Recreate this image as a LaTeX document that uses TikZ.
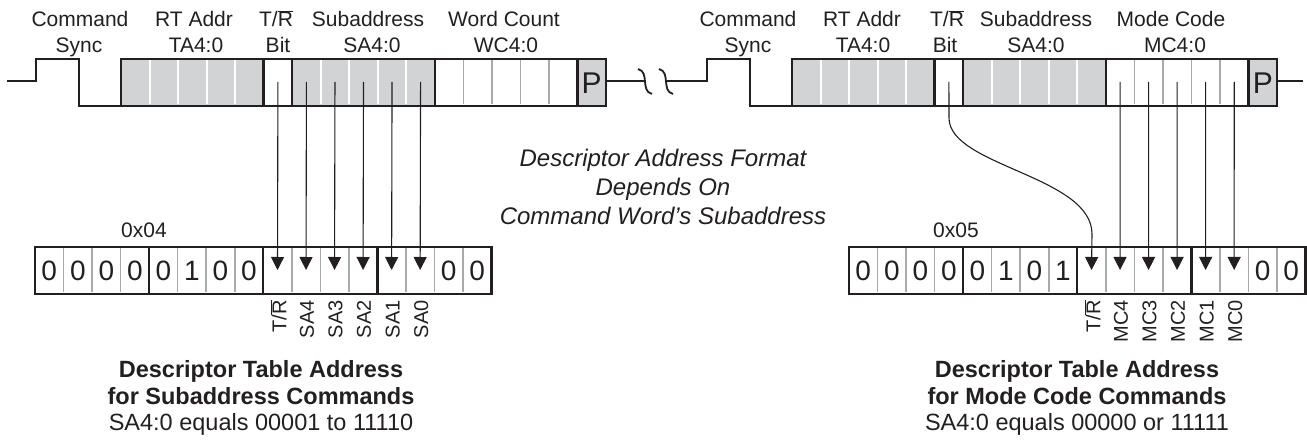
\documentclass[tikz,border=0pt]{standalone}
\usepackage{fontspec}
\setmainfont{Liberation Sans}
\usetikzlibrary{arrows.meta}
\definecolor{ink}{HTML}{231F20}
\definecolor{fieldgray}{HTML}{D1D3D4}
\definecolor{sepgray}{HTML}{A7A9AC}
\def\bw{28.53}
\newcommand{\TRbar}{T/$\overline{\mbox{R}}$}
\begin{document}
\begin{tikzpicture}[x=1pt,y=-1pt,
  outline/.style={draw=ink, line width=2.4pt},
  wave/.style={draw=ink, line width=2pt},
  sepw/.style={draw=white, line width=2pt},
  sepg/.style={draw=sepgray, line width=1.6pt},
  bitarrow/.style={draw=ink, line width=1.1pt, -{Triangle[width=13pt,length=13pt]}},
  head/.style={font=\fontsize{21}{25}\selectfont, anchor=base, inner sep=0pt, text=ink},
  digit/.style={font=\fontsize{28}{30}\selectfont, anchor=base, inner sep=0pt, text=ink},
  vlabel/.style={font=\fontsize{20}{22}\selectfont, rotate=90, anchor=east, inner sep=0pt, text=ink},
  hexlabel/.style={font=\fontsize{21}{25}\selectfont, anchor=base, inner sep=0pt, text=ink},
  note/.style={font=\fontsize{24}{28}\selectfont\itshape, anchor=base, inner sep=0pt, text=ink},
  captb/.style={font=\fontsize{23.5}{27}\selectfont\bfseries, anchor=base, inner sep=0pt, text=ink},
  captr/.style={font=\fontsize{23.5}{27}\selectfont, anchor=base, inner sep=0pt, text=ink}
]
\useasboundingbox (0,0) rectangle (1307,443);

% ---------- command words ----------
\foreach \X/\s in {121/L, 792/R} {
  \fill[fieldgray] (\X,59) rectangle (\X+5*\bw,106);
  \fill[fieldgray] (\X+6*\bw,59) rectangle (\X+11*\bw,106);
  \fill[fieldgray] (\X+16*\bw,59) rectangle (\X+17*\bw,106);
  \foreach \i in {1,2,3,4,7,8,9,10} \draw[sepw] (\X+\i*\bw,60.5) -- (\X+\i*\bw,104.5);
  \foreach \i in {12,13,14,15} \draw[sepg] (\X+\i*\bw,60.5) -- (\X+\i*\bw,104.5);
  \draw[outline] (\X,59) rectangle (\X+17*\bw,106);
  \foreach \i in {5,6,11,16} \draw[outline] (\X+\i*\bw,59) -- (\X+\i*\bw,106);
  \foreach \i in {5,...,15} \coordinate (\s-t\i) at (\X+\i*\bw+\bw/2,82);
  \node[digit, font=\fontsize{30}{32}\selectfont] (\s-P) at (\X+16.5*\bw,94) {P};
}

% ---------- waveform ----------
\coordinate (w0) at (7,81);
\coordinate (w1) at (36,81);
\coordinate (w2) at (36,59);
\coordinate (w3) at (79,59);
\coordinate (w4) at (79,106);
\coordinate (w5) at (121,106);
\draw[wave] (w0) -- (w1) -- (w2) -- (w3) -- (w4) -- (w5);
\coordinate (b1) at (606,81);
\coordinate (b2) at (645,81);
\coordinate (b3) at (666,81);
\coordinate (v1) at (707,81);
\coordinate (v2) at (707,59);
\coordinate (v3) at (750,59);
\coordinate (v4) at (750,106);
\coordinate (v5) at (792,106);
\draw[wave] (b1) -- (b2);
\draw[wave] (b3) -- (v1) -- (v2) -- (v3) -- (v4) -- (v5);
\draw[ink, line width=1.8pt] (638,69) .. controls (650,72) and (640,91) .. (652,94);
\draw[ink, line width=1.8pt] (659,69) .. controls (671,72) and (661,91) .. (673,94);
\coordinate (e1) at (1277,81);
\coordinate (e2) at (1303,81);
\draw[wave] (e1) -- (e2);

% ---------- headings ----------
\node[head] (hL1a) at (80,27) {Command};
\node[head] (hL1b) at (79,53) {Sync};
\node[head] (hL2a) at (194,27) {RT Addr};
\node[head] (hL2b) at (196,53) {TA4:0};
\node[head] (hL3a) at (276,27) {\TRbar};
\node[head] (hL3b) at (278,53) {Bit};
\node[head] (hL4a) at (368,27) {Subaddress};
\node[head] (hL4b) at (372,53) {SA4:0};
\node[head] (hL5a) at (504,27) {Word Count};
\node[head] (hL5b) at (506,53) {WC4:0};
\node[head] (hR1a) at (748,27) {Command};
\node[head] (hR1b) at (748,53) {Sync};
\node[head] (hR2a) at (862,27) {RT Addr};
\node[head] (hR2b) at (863,53) {TA4:0};
\node[head] (hR3a) at (947,27) {\TRbar};
\node[head] (hR3b) at (945,53) {Bit};
\node[head] (hR4a) at (1036,27) {Subaddress};
\node[head] (hR4b) at (1036,53) {SA4:0};
\node[head] (hR5a) at (1171,27) {Mode Code};
\node[head] (hR5b) at (1175,53) {MC4:0};

% ---------- descriptor registers ----------
\foreach \B/\s in {35/L, 849/R} {
  \foreach \i in {1,2,3,5,6,7,9,10,11,13,14,15} \draw[sepg] (\B+\i*\bw,248.5) -- (\B+\i*\bw,292.5);
  \draw[outline] (\B,247) rectangle (\B+16*\bw,294);
  \foreach \i in {4,8,12} \draw[outline] (\B+\i*\bw,247) -- (\B+\i*\bw,294);
  \foreach \i in {0,...,15} \coordinate (\s-b\i) at (\B+\i*\bw+\bw/2,270);
  \foreach \i in {0,...,15} \coordinate (\s-d\i) at (\B+\i*\bw+\bw/2,281);
  \foreach \i in {8,...,13} \coordinate (\s-l\i) at (\B+\i*\bw+\bw/2+1,300);
}
\foreach \i/\v in {0/0,1/0,2/0,3/0,4/0,5/1,6/0,7/0,14/0,15/0}
  \node[digit] (L-n\i) at (L-d\i) {\v};
\foreach \i/\v in {0/0,1/0,2/0,3/0,4/0,5/1,6/0,7/1,14/0,15/0}
  \node[digit] (R-n\i) at (R-d\i) {\v};

\node[hexlabel] (hexL) at (144,238) {0x04};
\node[hexlabel] (hexR) at (956,238) {0x05};

% ---------- bit arrows ----------
\foreach \t/\b in {5/8,6/9,7/10,8/11,9/12,10/13}
  \draw[bitarrow] (L-t\t) -- (L-b\b);
\foreach \t/\b in {11/9,12/10,13/11,14/12,15/13}
  \draw[bitarrow] (R-t\t) -- (R-b\b);
\coordinate (c1) at (949,118);
\coordinate (c2) at (1092,234);
\draw[bitarrow] (R-t5) -- (c1) .. controls +(0,48) and +(0,-58) .. (c2) -- (R-b8);

% ---------- rotated bit labels ----------
\node[vlabel] (lL8) at (L-l8) {\TRbar};
\node[vlabel] (lL9) at (L-l9) {SA4};
\node[vlabel] (lL10) at (L-l10) {SA3};
\node[vlabel] (lL11) at (L-l11) {SA2};
\node[vlabel] (lL12) at (L-l12) {SA1};
\node[vlabel] (lL13) at (L-l13) {SA0};
\node[vlabel] (lR8) at (R-l8) {\TRbar};
\node[vlabel] (lR9) at (R-l9) {MC4};
\node[vlabel] (lR10) at (R-l10) {MC3};
\node[vlabel] (lR11) at (R-l11) {MC2};
\node[vlabel] (lR12) at (R-l12) {MC1};
\node[vlabel] (lR13) at (R-l13) {MC0};

% ---------- centre note ----------
\node[note] (n1) at (663,167) {Descriptor Address Format};
\node[note] (n2) at (663,196) {Depends On};
\node[note] (n3) at (663,225) {Command Word’s Subaddress};

% ---------- captions ----------
\node[captb] (cL1) at (261,378) {Descriptor Table Address};
\node[captb] (cL2) at (261,405) {for Subaddress Commands};
\node[captr] (cL3) at (261,431) {SA4:0 equals 00001 to 11110};
\node[captb] (cR1) at (1077,378) {Descriptor Table Address};
\node[captb] (cR2) at (1077,405) {for Mode Code Commands};
\node[captr] (cR3) at (1077,431) {SA4:0 equals 00000 or 11111};
\end{tikzpicture}
\end{document}
